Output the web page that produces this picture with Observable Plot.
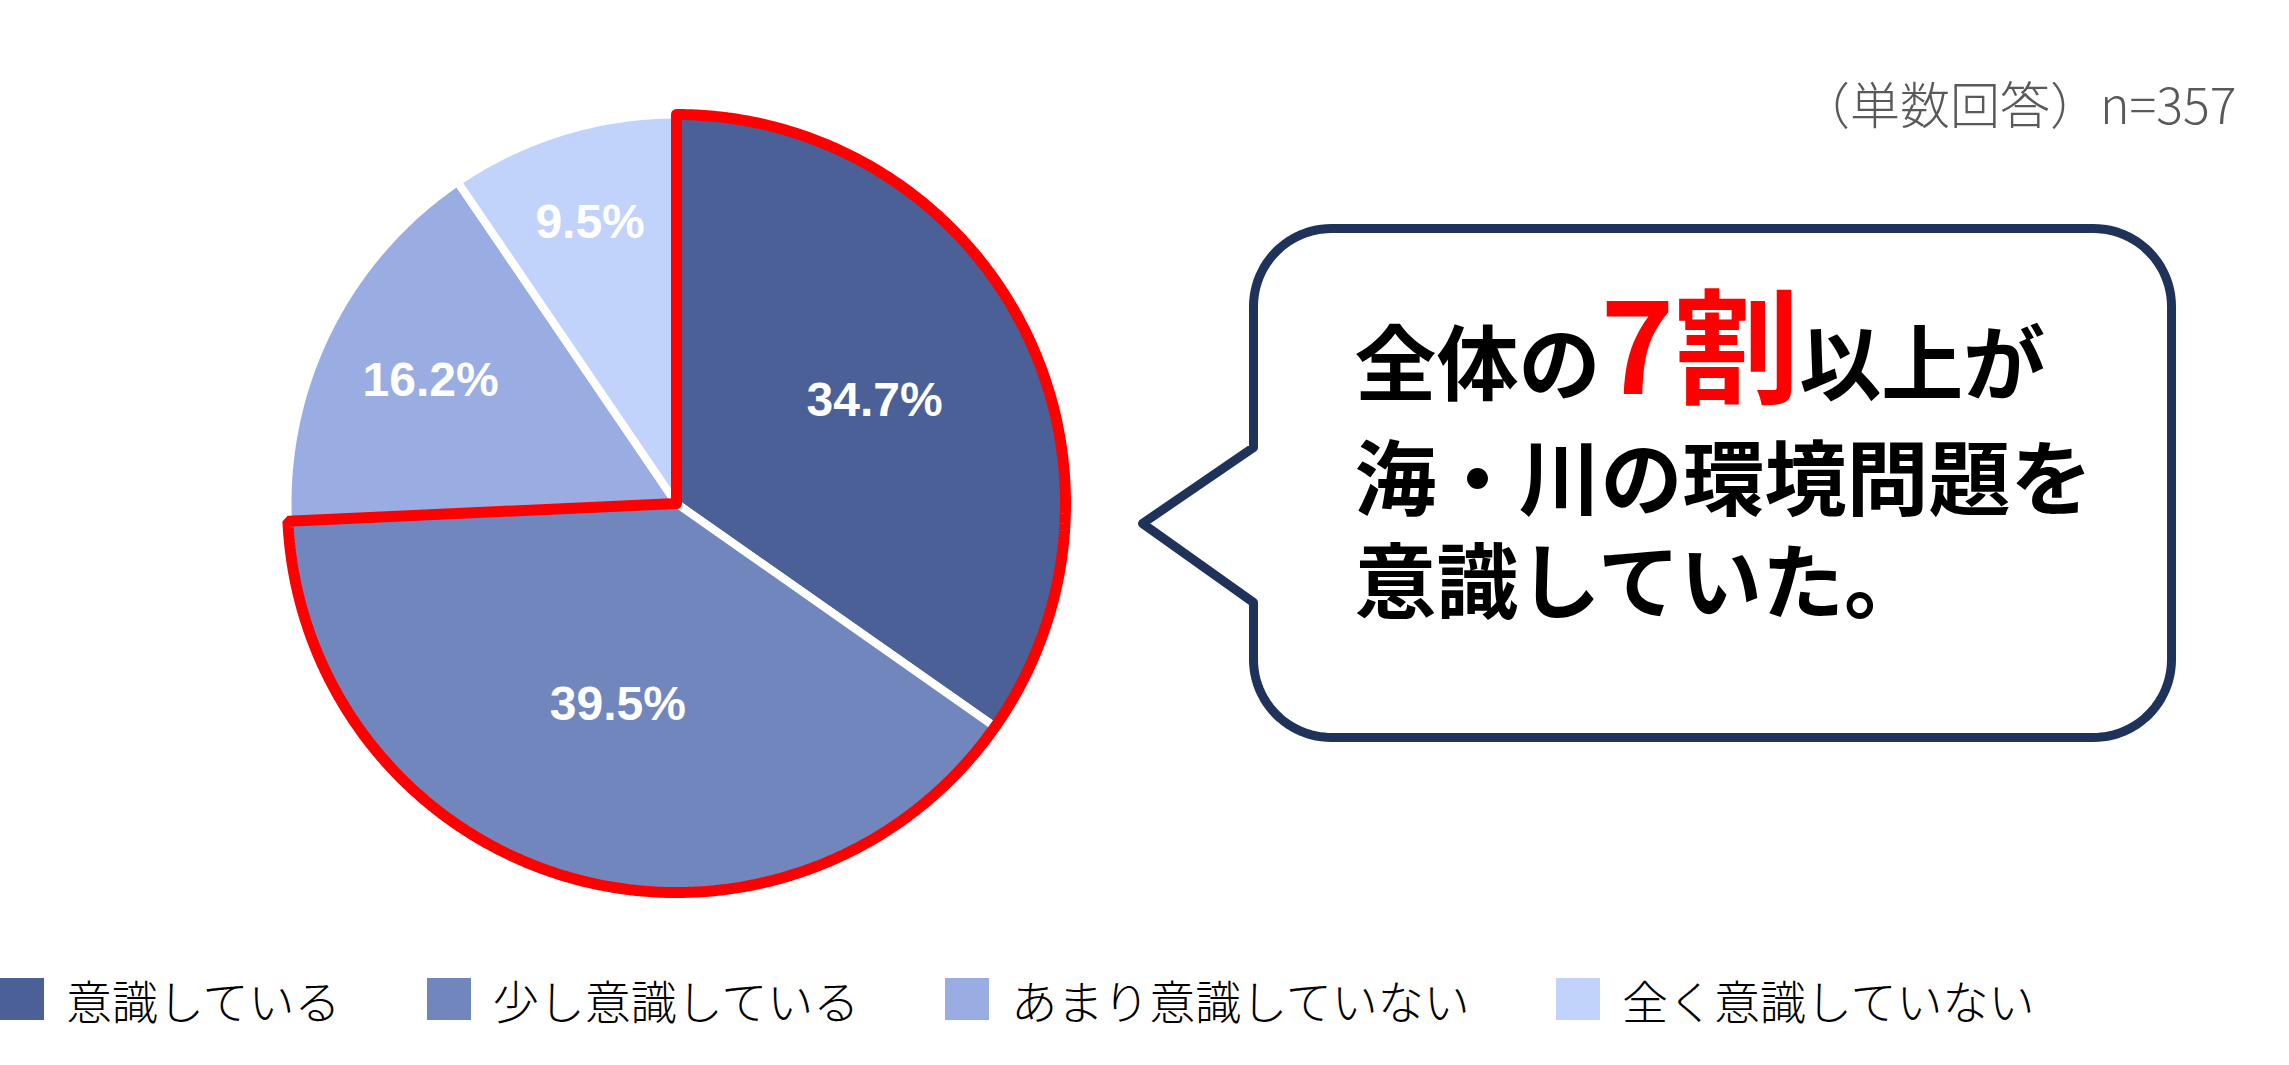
<!DOCTYPE html>
<html lang="ja">
<head>
<meta charset="utf-8">
<script src="https://cdn.jsdelivr.net/npm/d3@7"></script>
<script src="https://cdn.jsdelivr.net/npm/@observablehq/plot@0.6"></script>
<style>
  html, body { margin: 0; padding: 0; background: #fff; width: 2289px; height: 1065px; overflow: hidden; }
  #chart svg { display: block; }
  #legend { display: flex; align-items: center; height: 42px; margin-top: 28px; font-family: "Noto Sans CJK JP", sans-serif; font-weight: 300; font-size: 46px; color: #000; }
  .item { display: flex; align-items: center; margin-right: 86px; }
  .sw { width: 44px; height: 42px; margin-right: 22px; }
</style>
</head>
<body>
<div id="chart"></div>
<div id="legend"></div>
<script>
// ---- data ----
const categories = ["意識している", "少し意識している", "あまり意識していない", "全く意識していない"];
const percents = [34.7, 39.5, 16.2, 9.5];
const colors = ["#4B6096", "#7286BE", "#9AADE2", "#C1D3FB"];
const highlightedSlices = 2; // first two slices outlined in red (7割以上)
const noteText = "（単数回答）n=357";
const calloutLine1 = [
  {text: "全体の", emphasis: false},
  {text: "7割", emphasis: true},
  {text: "以上が", emphasis: false}
];
const calloutLines23 = ["海・川の環境問題を", "意識していた。"];

// ---- layout ----
const W = 2289, H = 950;
const cx = 676, cy = 503, R = 389;
const ux = p => (p - cx) / R;
const uy = p => (cy - p) / R;

const rows = categories.map((c, i) => ({category: c, value: percents[i]}));
const arcs = d3.pie().sort(null).value(d => d.value)(rows);
const total = d3.sum(percents);

function arcPoints(a0, a1) {
  const n = Math.max(2, Math.ceil((a1 - a0) / (Math.PI / 360)));
  const pts = [];
  for (let i = 0; i <= n; i++) {
    const t = a0 + (a1 - a0) * i / n;
    pts.push({x: Math.sin(t), y: Math.cos(t)});
  }
  return pts;
}

const sliceRows = arcs.flatMap(a => {
  const pts = [{x: 0, y: 0}, ...arcPoints(a.startAngle, a.endAngle), {x: 0, y: 0}];
  return pts.map(p => ({...p, category: a.data.category}));
});

const hl = arcs.slice(0, highlightedSlices);
const outlineRows = [{x: 0, y: 0}, ...arcPoints(hl[0].startAngle, hl[hl.length - 1].endAngle), {x: 0, y: 0}, {x: 0, y: 1}];

const labelRows = arcs.map(a => {
  const mid = (a.startAngle + a.endAngle) / 2;
  const share = a.data.value / total;
  const f = 0.823 - 0.717 * share;
  return {x: f * Math.sin(mid), y: f * Math.cos(mid), text: a.data.value.toFixed(1) + "%"};
});

// speech bubble outline (pixel layout -> units)
const bx0 = 1253, bx1 = 2171, by0 = 228, by1 = 737, br = 78;
const tip = [1142, 523], baseTop = 447, baseBot = 602;
function corner(ccx, ccy, a0, a1) {
  const pts = [];
  for (let i = 0; i <= 24; i++) {
    const t = a0 + (a1 - a0) * i / 24;
    pts.push([ccx + br * Math.cos(t), ccy + br * Math.sin(t)]);
  }
  return pts;
}
const bubblePx = [
  [bx0, baseTop],
  ...corner(bx0 + br, by0 + br, Math.PI, 1.5 * Math.PI),
  ...corner(bx1 - br, by0 + br, 1.5 * Math.PI, 2 * Math.PI),
  ...corner(bx1 - br, by1 - br, 0, 0.5 * Math.PI),
  ...corner(bx0 + br, by1 - br, 0.5 * Math.PI, Math.PI),
  [bx0, baseBot],
  tip,
  [bx0, baseTop]
];
const bubbleRows = bubblePx.map(([px, py]) => ({x: ux(px), y: uy(py)}));

const jpBold = '"Noto Sans CJK JP", sans-serif';
const baseSize = 82, bigSize = 125;
const gap12 = 115, gap23 = 103; // baseline spacing in px
const line1Text = calloutLine1.map(p => p.text).join("");
const calloutText = [line1Text, ...calloutLines23].join("\n");

const chart = Plot.plot({
  width: W,
  height: H,
  margin: 0,
  x: {domain: [ux(0), ux(W)], range: [0, W], axis: null},
  y: {domain: [uy(H), uy(0)], range: [H, 0], axis: null},
  color: {domain: categories, range: colors},
  style: {background: "#fff"},
  marks: [
    Plot.line(sliceRows, {x: "x", y: "y", z: "category", fill: "category", stroke: "#fff", strokeWidth: 8, strokeLinejoin: "round", curve: "linear"}),
    Plot.line(outlineRows, {x: "x", y: "y", stroke: "#FF0000", strokeWidth: 11, strokeLinejoin: "miter", fill: "none", curve: "linear"}),
    Plot.text(labelRows, {x: "x", y: "y", text: "text", fill: "#fff", fontSize: 48, fontWeight: "bold", fontFamily: '"Liberation Sans", Arial, sans-serif'}),
    Plot.line(bubbleRows, {x: "x", y: "y", fill: "#fff", stroke: "#1F3259", strokeWidth: 9, strokeLinejoin: "round", curve: "linear"}),
    Plot.text([calloutText], {x: ux(1354), y: uy(611), text: d => d, fill: "#000", fontSize: baseSize, fontWeight: 700, fontFamily: jpBold, textAnchor: "start", lineAnchor: "bottom", lineHeight: gap23 / baseSize}),
    Plot.text([noteText], {x: ux(2236), y: uy(123), text: d => d, fill: "#595959", fontSize: 50, fontWeight: 300, fontFamily: '"Noto Sans CJK JP", sans-serif', textAnchor: "end", lineAnchor: "bottom"})
  ]
});
document.getElementById("chart").appendChild(chart);

// rich text for the callout: uneven line spacing and large red "7割"
chart.querySelectorAll("text").forEach(t => {
  const spans = t.querySelectorAll("tspan");
  if (spans.length === 3 && spans[0].textContent === line1Text) {
    const ys = [-(gap12 + gap23), -gap23, 0];
    spans.forEach((s, i) => {
      s.removeAttribute("dy");
      s.setAttribute("x", 0);
      s.setAttribute("y", ys[i]);
    });
    t.removeAttribute("y");
    t.removeAttribute("dy");
    const first = spans[0];
    while (first.firstChild) first.removeChild(first.firstChild);
    calloutLine1.forEach(p => {
      const ts = document.createElementNS("http://www.w3.org/2000/svg", "tspan");
      ts.textContent = p.text;
      if (p.emphasis) {
        ts.setAttribute("fill", "#FF0000");
        ts.setAttribute("font-size", bigSize);
      }
      first.appendChild(ts);
    });
  }
});

// legend
const legend = d3.select("#legend");
categories.forEach((c, i) => {
  const item = legend.append("div").attr("class", "item");
  item.append("div").attr("class", "sw").style("background", colors[i]);
  item.append("span").text(c);
});
</script>
</body>
</html>
